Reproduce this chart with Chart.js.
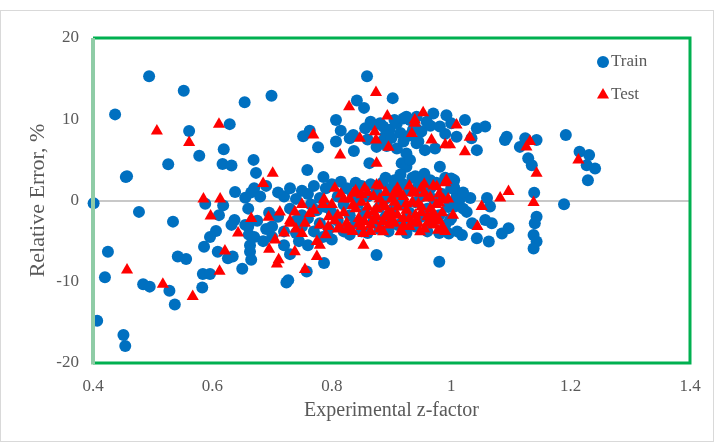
<!DOCTYPE html>
<html>
<head>
<meta charset="utf-8">
<script src="https://cdn.jsdelivr.net/npm/chart.js@4.4.0/dist/chart.umd.min.js"></script>
<style>
  html, body { margin: 0; padding: 0; background: #fff; }
  #wrap { width: 721px; height: 446px; }
</style>
</head>
<body>
<div id="wrap"><canvas id="zchart" width="721" height="446"></canvas></div>
<script>
// axis ticks
const xTickLabels = ['0.4', '0.6', '0.8', '1', '1.2', '1.4'];
const yTickLabels = ['-20', '-10', '0', '10', '20'];

// Train points [z-factor, relative error %]
const trainPoints = [
  // sparse left side
  [0.494, 15.3], [0.552, 13.5], [0.654, 12.1], [0.437, 10.6], [0.629, 9.4], [0.561, 8.55],
  [0.619, 6.3], [0.578, 5.5], [0.669, 5.0], [0.617, 4.5], [0.632, 4.3], [0.526, 4.45],
  [0.673, 3.4], [0.455, 2.9], [0.457, 3.0], [0.638, 1.05], [0.67, 1.5], [0.655, 0.35],
  [0.401, -0.35], [0.588, -0.4], [0.618, -0.6], [0.477, -1.4], [0.611, -1.8], [0.534, -2.6],
  [0.637, -2.4], [0.632, -3.0], [0.66, -3.2], [0.661, -4.2], [0.606, -3.75], [0.596, -4.5],
  [0.586, -5.7], [0.663, -5.5], [0.663, -6.3], [0.665, -7.3], [0.65, -8.4], [0.425, -6.3],
  [0.542, -6.9], [0.556, -7.2], [0.609, -6.3], [0.626, -7.1], [0.634, -6.9], [0.584, -9.05],
  [0.596, -9.05], [0.42, -9.45], [0.484, -10.3], [0.495, -10.6], [0.528, -11.1], [0.583, -10.7],
  [0.537, -12.8], [0.407, -14.8], [0.451, -16.55], [0.454, -17.9],
  // upper cluster
  [0.859, 15.3], [0.699, 12.9], [0.842, 12.3], [0.854, 11.4], [0.902, 12.6], [0.807, 9.9],
  [0.815, 8.6], [0.752, 7.9], [0.763, 8.6], [0.777, 6.55], [0.807, 7.25], [0.83, 7.65],
  [0.836, 8.05], [0.837, 6.1], [0.856, 8.9], [0.87, 9.3], [0.881, 9.5], [0.886, 9.1],
  [0.897, 8.7], [0.909, 9.5], [0.92, 10.1], [0.931, 9.9], [0.942, 10.3], [0.875, 6.6],
  [0.884, 7.25], [0.892, 6.7], [0.909, 6.4], [0.92, 7.25], [0.925, 5.8], [0.917, 4.6],
  [0.925, 4.15], [0.931, 5.0], [0.942, 7.05], [0.863, 4.6], [0.759, 3.75], [0.786, 2.9],
  [0.89, 8.0], [0.9, 7.7], [0.905, 9.9], [0.915, 8.3], [0.93, 8.0], [0.94, 9.0],
  [0.86, 7.5], [0.865, 9.7], [0.95, 8.5], [0.965, 9.2], [0.99, 8.2], [1.0, 9.5],
  [0.97, 10.7], [0.992, 10.5], [1.023, 9.9], [1.043, 8.9], [1.057, 9.1], [1.034, 7.65],
  [1.009, 7.85], [0.981, 9.1], [0.959, 9.7], [0.925, 10.3], [0.936, 8.7], [0.956, 6.2],
  [0.973, 6.4], [1.043, 6.2], [0.945, 7.25], [0.981, 4.15],
  // right side
  [1.093, 7.85], [1.09, 7.45], [1.115, 6.6], [1.124, 7.65], [1.143, 7.45], [1.129, 5.2],
  [1.135, 4.35], [1.192, 8.05], [1.189, -0.45], [1.139, 0.95], [1.143, -2.0], [1.14, -2.8],
  [1.138, -4.25], [1.143, -5.05], [1.138, -5.9], [1.215, 6.0], [1.231, 5.6], [1.227, 4.35],
  [1.241, 3.95], [1.229, 2.5],
  [1.032, 0.3], [1.06, 0.3], [1.065, -0.75], [1.057, -2.4], [1.068, -2.8], [1.035, -2.8],
  [1.043, -4.65], [1.063, -5.05], [1.085, -4.05], [1.096, -3.4], [1.018, -4.25], [0.996, -4.05],
  [1.006, -0.75], [1.009, 0.45], [1.026, -1.4], [0.998, -2.4],
  // outliers below band
  [0.875, -6.7], [0.727, -9.8], [0.724, -10.1], [0.787, -7.7], [0.758, -8.75], [0.98, -7.55],
  // dense band
  [0.655, -3.0], [0.66, -1.0], [0.665, 1.0], [0.67, -4.5], [0.675, -2.5], [0.68, 0.5],
  [0.685, -5.0], [0.69, -3.5], [0.69, 1.8], [0.695, -1.5],
  [0.70, -3.2], [0.70, -4.5], [0.71, -2.0], [0.71, 1.0], [0.72, 0.5], [0.72, -3.8],
  [0.72, -5.5], [0.73, -1.0], [0.73, 1.5], [0.73, -6.6], [0.74, -2.5], [0.74, 0.2],
  [0.74, -4.0], [0.745, -5.0], [0.75, 1.2], [0.75, -1.8], [0.75, -3.2], [0.76, 0.8],
  [0.76, -2.2], [0.76, -5.5], [0.765, -0.5], [0.77, -3.8], [0.77, 1.8], [0.775, -1.2],
  [0.78, 0.3], [0.78, -2.8], [0.785, -4.5], [0.79, 1.5], [0.79, -0.8], [0.795, -3.5],
  [0.80, 2.0], [0.80, -1.5], [0.80, -4.8], [0.81, 0.5], [0.81, -2.5], [0.815, 2.3],
  [0.82, -0.5], [0.82, -3.8], [0.825, 1.5], [0.83, -1.8], [0.83, -4.2], [0.835, 0.8],
  [0.84, 2.2], [0.84, -2.8], [0.845, -0.3], [0.85, 1.8], [0.85, -3.8], [0.855, -1.5],
  [0.86, 0.5], [0.86, -4.0], [0.865, 2.0], [0.87, -2.5], [0.875, 1.0], [0.88, -0.8],
  [0.88, -3.5], [0.885, 2.2], [0.89, 0.2], [0.89, -2.0], [0.895, -3.8], [0.90, 1.5],
  [0.90, -1.2], [0.905, 2.5], [0.91, -3.0], [0.91, 0.8], [0.915, -0.5], [0.92, 2.0],
  [0.92, -2.5], [0.925, -4.0], [0.93, 1.2], [0.93, -1.5], [0.935, 2.8], [0.94, -0.2],
  [0.94, -3.2], [0.945, 1.8], [0.95, -2.0], [0.95, 0.5], [0.955, 2.5], [0.96, -1.0],
  [0.96, -3.8], [0.965, 1.5], [0.97, -2.5], [0.97, 0.2], [0.975, 2.2], [0.98, -1.8],
  [0.98, -4.0], [0.985, 0.8], [0.99, 2.8], [0.99, -3.0], [0.995, -0.8], [1.0, 1.5],
  [1.0, -2.2], [1.005, 2.5], [1.01, -3.8], [1.015, 0.2], [1.02, -1.0],
  [0.89, 2.8], [0.915, 3.2], [0.94, 3.0], [0.955, 3.3], [0.965, 2.5], [1.0, 2.7],
  [1.005, 1.6], [1.02, 1.0]
];

// Test points [z-factor, relative error %]
const testPoints = [
  [0.507, 8.55], [0.611, 9.4], [0.561, 7.15], [0.585, 0.2], [0.613, 0.2], [0.597, -1.9],
  [0.665, -2.2], [0.643, -4.0], [0.621, -6.2], [0.612, -8.7], [0.457, -8.55], [0.517, -10.3],
  [0.567, -11.8],
  [0.874, 13.3], [0.829, 11.55], [0.893, 10.4], [0.769, 8.05], [0.847, 7.65], [0.872, 8.45],
  [0.874, 7.45], [0.895, 6.55], [0.814, 5.6], [0.875, 4.6], [0.939, 9.5], [0.934, 8.25],
  [0.701, 3.35], [0.685, 2.1], [0.694, -2.05], [0.713, -1.4], [0.738, -1.4], [0.763, -1.6],
  [0.787, 0.15], [0.805, 1.5], [0.836, 0.9], [0.875, 1.9], [0.73, -2.8], [0.75, -4.05],
  [0.775, -5.05], [0.78, -5.5], [0.794, -3.2], [0.814, -3.4], [0.83, -3.6], [0.853, -4.05],
  [0.853, -5.5], [0.705, -4.85], [0.695, -6.0], [0.738, -6.3], [0.708, -7.8], [0.711, -7.3],
  [0.755, -8.5], [0.775, -6.9], [0.886, -3.85], [0.917, -3.85],
  [0.953, 10.8], [0.939, 9.9], [1.009, 9.3], [1.031, 7.8], [1.023, 6.0], [0.998, 6.85],
  [0.99, 6.85], [0.967, 7.45], [1.132, 7.25], [1.126, 6.6], [1.143, 3.35], [1.082, 0.3],
  [1.096, 1.1], [1.138, -0.25], [1.051, -0.75], [1.044, -3.2], [0.992, 2.5], [0.976, 1.7],
  [0.987, 0.05], [1.003, -1.8], [0.978, -3.65], [0.948, -3.85], [0.97, -2.2], [1.213, 5.0],
  // dense band
  [0.80, -0.5], [0.805, -2.5], [0.81, -3.5], [0.815, 0.8], [0.82, -1.5], [0.825, -2.8],
  [0.83, 0.2], [0.835, -3.8], [0.84, -1.0], [0.84, 1.2], [0.845, -2.2], [0.85, -0.2],
  [0.85, -3.2], [0.855, 1.5], [0.86, -1.8], [0.865, -3.8], [0.87, 0.5], [0.87, -2.5],
  [0.875, -1.0], [0.88, 1.8], [0.88, -3.5], [0.885, -0.5], [0.89, -2.0], [0.89, 1.0],
  [0.895, -3.0], [0.90, 0.2], [0.90, -1.5], [0.905, -2.8], [0.91, 1.5], [0.91, -0.8],
  [0.915, -3.8], [0.92, 0.5], [0.92, -2.2], [0.925, -1.2], [0.93, 1.8], [0.93, -3.2],
  [0.935, -0.2], [0.94, -1.8], [0.94, 0.9], [0.945, -2.8], [0.95, -0.8], [0.95, 1.5],
  [0.955, -3.5], [0.96, 0.3], [0.96, -2.0], [0.965, -1.0], [0.97, 1.8], [0.97, -3.0],
  [0.975, -0.5], [0.98, 0.8], [0.98, -2.5], [0.985, -1.5], [0.99, -3.8], [0.99, 2.2],
  [0.995, 0.2],
  [0.81, -1.8], [0.82, 0.2], [0.825, -3.6], [0.835, -0.6], [0.845, -2.9], [0.85, 0.7],
  [0.855, -2.6], [0.86, -0.8], [0.865, -3.0], [0.87, -1.4], [0.875, -2.0], [0.88, 0.2],
  [0.885, -2.6], [0.89, -0.8], [0.895, -1.6], [0.90, -2.3], [0.905, -0.2], [0.91, -1.8],
  [0.915, 0.8], [0.92, -3.1], [0.925, -0.4], [0.93, -2.2], [0.935, 1.0], [0.94, -2.6],
  [0.945, -0.4], [0.95, -1.5], [0.955, 0.9], [0.96, -2.8], [0.965, 0.4], [0.97, -1.5],
  [0.975, -2.5], [0.98, -0.3], [0.985, -3.3], [0.955, 2.0], [0.905, 1.0], [0.86, 1.0],
  [0.72, -4.0], [0.73, -2.5], [0.74, -3.5], [0.75, -0.5], [0.755, -2.8], [0.77, -1.2],
  [0.78, -3.0], [0.79, -4.2], [0.795, -2.0], [0.785, -0.5]
];

const toXY = pts => pts.map(p => ({ x: p[0], y: p[1] }));

const SERIF = "'Liberation Serif', 'Times New Roman', serif";
const GREY = '#595959';

// green frame, outer border and the inside legend
const framePlugin = {
  id: 'frame',
  afterDraw(chart) {
    const { ctx, chartArea: a } = chart;
    ctx.save();
    ctx.strokeStyle = '#d9d9d9';
    ctx.lineWidth = 1;
    ctx.strokeRect(0.5, 10.5, 713, 431);

    ctx.lineWidth = 3;
    ctx.strokeStyle = '#00b050';
    ctx.beginPath();
    ctx.moveTo(a.left, a.top);
    ctx.lineTo(a.right, a.top);
    ctx.lineTo(a.right, a.bottom);
    ctx.lineTo(a.left, a.bottom);
    ctx.stroke();
    ctx.strokeStyle = '#8fcca6';
    ctx.lineWidth = 4;
    ctx.beginPath();
    ctx.moveTo(a.left, a.top);
    ctx.lineTo(a.left, a.bottom + 1.5);
    ctx.stroke();

    // legend
    const items = [
      { text: 'Train', style: 'circle', color: '#0070c0', r: 6, y: 62 },
      { text: 'Test', style: 'triangle', color: '#ff0000', r: 7, y: 95 }
    ];
    ctx.font = '17px ' + SERIF;
    ctx.textBaseline = 'middle';
    items.forEach(it => {
      ctx.fillStyle = it.color;
      Chart.helpers.drawPoint(ctx, { pointStyle: it.style, radius: it.r, borderWidth: 0 }, 603, it.y);
      ctx.fillStyle = GREY;
      ctx.fillText(it.text, 611, it.y);
    });
    ctx.restore();
  }
};

new Chart(document.getElementById('zchart'), {
  type: 'scatter',
  data: {
    datasets: [
      {
        label: 'Train',
        data: toXY(trainPoints),
        pointStyle: 'circle',
        pointRadius: 6,
        backgroundColor: '#0070c0',
        borderWidth: 0,
        order: 2,
        clip: false
      },
      {
        label: 'Test',
        data: toXY(testPoints),
        pointStyle: 'triangle',
        pointRadius: 7,
        backgroundColor: '#ff0000',
        borderWidth: 0,
        order: 1,
        clip: false
      }
    ]
  },
  options: {
    responsive: false,
    animation: false,
    layout: { padding: { top: 38, right: 31, left: 0, bottom: 0 } },
    plugins: { legend: { display: false }, tooltip: { enabled: false } },
    scales: {
      x: {
        type: 'linear',
        min: 0.4,
        max: 1.4,
        afterFit: s => { s.height = 83; },
        ticks: {
          stepSize: 0.2,
          padding: 5,
          color: GREY,
          font: { family: SERIF, size: 17 },
          callback: (v, i) => xTickLabels[i]
        },
        grid: { display: false },
        border: { display: false },
        title: {
          display: true,
          text: 'Experimental z-factor',
          color: GREY,
          font: { family: SERIF, size: 20 },
          padding: { top: 0, bottom: 23 }
        }
      },
      y: {
        type: 'linear',
        min: -20,
        max: 20,
        afterFit: s => { s.width = 93; },
        ticks: {
          stepSize: 10,
          padding: 14,
          color: GREY,
          font: { family: SERIF, size: 17 },
          callback: (v, i) => yTickLabels[i]
        },
        grid: {
          drawTicks: false,
          lineWidth: 2,
          color: c => (c.tick && c.tick.value === 0 ? '#c8c8c8' : 'rgba(0,0,0,0)')
        },
        border: { display: false },
        title: {
          display: true,
          text: 'Relative Error, %',
          color: GREY,
          font: { family: SERIF, size: 22 },
          padding: { top: 25, bottom: 0 }
        }
      }
    }
  },
  plugins: [framePlugin]
});
</script>
</body>
</html>
